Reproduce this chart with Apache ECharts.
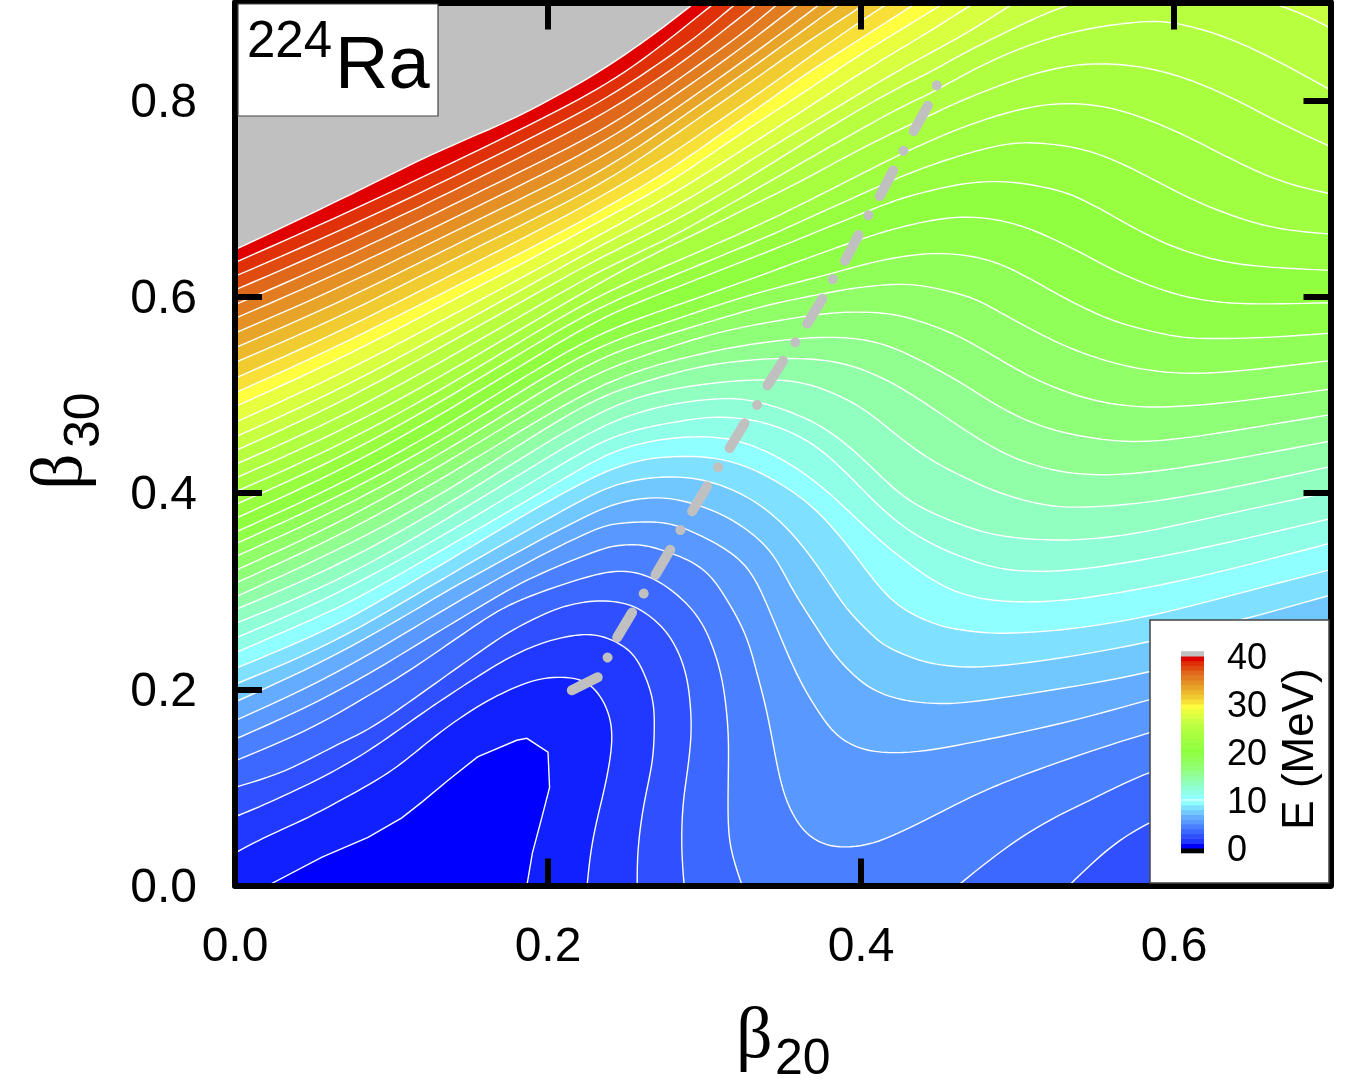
<!DOCTYPE html>
<html>
<head>
<meta charset="utf-8">
<title>224Ra</title>
<script src="https://cdn.jsdelivr.net/npm/echarts@6/dist/echarts.min.js"></script>
<style>
html,body{margin:0;padding:0;background:#fff}
#chart{width:1347px;height:1089px}
</style>
</head>
<body>
<div id="chart"></div>
<script>
// contours are [beta20, beta30] pairs, one per MeV
const c01 = [[0.021,0],[0.0556,0.029],[0.085,0.049],[0.1066,0.069],[0.1194,0.085],[0.136,0.107],[0.155,0.131],[0.18,0.148],[0.1865,0.15],[0.2,0.136],[0.201,0.1],[0.196,0.069],[0.19,0.033],[0.1865,0]]
const c02 = [[0,0.033],[0.017,0.048],[0.043,0.066],[0.068,0.087],[0.096,0.112],[0.111,0.13],[0.132,0.158],[0.155,0.183],[0.174,0.199],[0.193,0.211],[0.209,0.213],[0.2235,0.21],[0.234,0.194],[0.241,0.168],[0.241,0.138],[0.236,0.097],[0.231,0.066],[0.227,0.033],[0.225,0]]
const c03 = [[0,0.07],[0.017,0.081],[0.043,0.1],[0.07,0.122],[0.091,0.143],[0.111,0.166],[0.13,0.187],[0.153,0.211],[0.174,0.232],[0.192,0.245],[0.206,0.252],[0.2235,0.257],[0.236,0.254],[0.248,0.245],[0.257,0.232],[0.264,0.207],[0.268,0.184],[0.268,0.155],[0.267,0.124],[0.261,0.084],[0.257,0.036],[0.257,0]]
const c04a = [[0,0.1],[0.032,0.115],[0.064,0.143],[0.085,0.158],[0.107,0.182],[0.128,0.206],[0.151,0.232],[0.173,0.257],[0.19,0.271],[0.206,0.283],[0.222,0.289],[0.236,0.291],[0.2535,0.287],[0.266,0.274],[0.276,0.259],[0.284,0.237],[0.289,0.212],[0.291,0.186],[0.292,0.155],[0.289,0.114],[0.286,0.084],[0.285,0.039],[0.287,0]]
const c04b = [[0.533,0],[0.556,0.036],[0.583,0.066],[0.642,0.102],[0.7,0.138]]
const c05a = [[0,0.127],[0.047,0.158],[0.075,0.184],[0.107,0.214],[0.128,0.237],[0.149,0.26],[0.171,0.284],[0.198,0.301],[0.233,0.319],[0.248,0.321],[0.2605,0.318],[0.276,0.306],[0.295,0.279],[0.305,0.247],[0.312,0.209],[0.315,0.165],[0.3155,0.138],[0.315,0.094],[0.315,0.059],[0.317,0.033],[0.324,0]]
const c05b = [[0.462,0],[0.492,0.039],[0.522,0.069],[0.551,0.09],[0.583,0.117],[0.642,0.143],[0.7,0.173]]
const c06 = [[0,0.149],[0.064,0.194],[0.128,0.257],[0.174,0.301],[0.192,0.316],[0.233,0.343],[0.2446,0.347],[0.26,0.348],[0.273,0.342],[0.2905,0.332],[0.303,0.318],[0.312,0.298],[0.327,0.257],[0.333,0.219],[0.34,0.179],[0.346,0.124],[0.351,0.09],[0.359,0.064],[0.368,0.048],[0.382,0.038],[0.404,0.04],[0.426,0.054],[0.469,0.09],[0.494,0.107],[0.53,0.128],[0.583,0.156],[0.642,0.181],[0.7,0.204]]
const c07 = [[0,0.168],[0.064,0.214],[0.128,0.276],[0.155,0.301],[0.192,0.334],[0.233,0.366],[0.244,0.369],[0.2605,0.371],[0.278,0.37],[0.295,0.359],[0.312,0.345],[0.327,0.327],[0.337,0.299],[0.3525,0.237],[0.363,0.202],[0.372,0.179],[0.381,0.158],[0.391,0.145],[0.407,0.135],[0.4355,0.135],[0.469,0.145],[0.53,0.165],[0.583,0.189],[0.642,0.214],[0.7,0.24]]
const c08 = [[0,0.187],[0.064,0.233],[0.128,0.293],[0.136,0.301],[0.192,0.35],[0.233,0.384],[0.248,0.391],[0.2605,0.395],[0.28,0.396],[0.31,0.381],[0.333,0.357],[0.346,0.334],[0.356,0.301],[0.372,0.262],[0.382,0.237],[0.391,0.221],[0.401,0.206],[0.414,0.194],[0.432,0.187],[0.45,0.185],[0.469,0.186],[0.53,0.201],[0.583,0.216],[0.642,0.242],[0.7,0.268]]
const c09 = [[0,0.205],[0.064,0.247],[0.12,0.301],[0.192,0.367],[0.233,0.403],[0.249,0.411],[0.265,0.416],[0.286,0.417],[0.305,0.412],[0.331,0.395],[0.354,0.364],[0.37,0.331],[0.381,0.305],[0.391,0.281],[0.404,0.26],[0.414,0.245],[0.425,0.237],[0.439,0.228],[0.457,0.223],[0.479,0.222],[0.519,0.229],[0.583,0.247],[0.647,0.272],[0.7,0.296]]
const c10 = [[0,0.221],[0.064,0.263],[0.104,0.301],[0.128,0.323],[0.192,0.385],[0.233,0.42],[0.249,0.429],[0.265,0.436],[0.289,0.438],[0.308,0.436],[0.329,0.427],[0.354,0.405],[0.3735,0.381],[0.395,0.34],[0.414,0.298],[0.429,0.279],[0.446,0.267],[0.457,0.262],[0.479,0.257],[0.498,0.257],[0.53,0.26],[0.583,0.273],[0.637,0.296],[0.7,0.322]]
const c11 = [[0,0.237],[0.064,0.281],[0.0875,0.301],[0.128,0.338],[0.192,0.397],[0.233,0.437],[0.254,0.449],[0.276,0.456],[0.297,0.458],[0.318,0.456],[0.3435,0.441],[0.369,0.415],[0.388,0.388],[0.41,0.354],[0.431,0.327],[0.455,0.301],[0.479,0.291],[0.498,0.289],[0.519,0.289],[0.551,0.294],[0.615,0.313],[0.7,0.349]]
const c12 = [[0,0.252],[0.064,0.295],[0.128,0.352],[0.192,0.413],[0.233,0.453],[0.2586,0.466],[0.28,0.472],[0.3014,0.478],[0.3225,0.477],[0.3416,0.471],[0.365,0.456],[0.386,0.429],[0.41,0.388],[0.431,0.36],[0.455,0.34],[0.483,0.324],[0.503,0.32],[0.53,0.32],[0.573,0.329],[0.637,0.35],[0.7,0.374]]
const c13 = [[0,0.267],[0.064,0.308],[0.128,0.366],[0.192,0.429],[0.233,0.468],[0.2586,0.483],[0.282,0.492],[0.31,0.497],[0.329,0.496],[0.356,0.483],[0.378,0.466],[0.399,0.439],[0.42,0.405],[0.437,0.385],[0.466,0.366],[0.483,0.358],[0.5,0.354],[0.519,0.352],[0.541,0.352],[0.577,0.358],[0.637,0.38],[0.7,0.401]]
const c14 = [[0,0.281],[0.064,0.324],[0.128,0.38],[0.192,0.445],[0.233,0.483],[0.2605,0.5],[0.286,0.508],[0.314,0.514],[0.34,0.516],[0.361,0.514],[0.382,0.503],[0.4036,0.485],[0.4246,0.456],[0.4457,0.432],[0.466,0.416],[0.487,0.4],[0.519,0.386],[0.541,0.385],[0.581,0.389],[0.637,0.405],[0.7,0.427]]
const c15 = [[0,0.294],[0.064,0.34],[0.128,0.394],[0.192,0.46],[0.233,0.499],[0.263,0.514],[0.2925,0.528],[0.3225,0.535],[0.35,0.538],[0.382,0.536],[0.4074,0.523],[0.431,0.503],[0.466,0.464],[0.4936,0.437],[0.5217,0.423],[0.541,0.419],[0.562,0.418],[0.594,0.423],[0.637,0.434],[0.7,0.453]]
const c16 = [[0,0.308],[0.064,0.354],[0.128,0.41],[0.192,0.473],[0.233,0.51],[0.265,0.529],[0.295,0.541],[0.3244,0.551],[0.365,0.559],[0.3927,0.559],[0.4138,0.553],[0.4355,0.538],[0.466,0.511],[0.4853,0.49],[0.509,0.471],[0.532,0.46],[0.56,0.453],[0.581,0.452],[0.611,0.456],[0.7,0.48]]
const c17 = [[0,0.321],[0.064,0.367],[0.128,0.424],[0.192,0.487],[0.233,0.525],[0.276,0.548],[0.308,0.564],[0.34,0.574],[0.378,0.584],[0.4036,0.585],[0.4246,0.582],[0.4457,0.571],[0.466,0.558],[0.4936,0.531],[0.517,0.511],[0.547,0.494],[0.573,0.488],[0.594,0.487],[0.637,0.492],[0.7,0.506]]
const c18 = [[0,0.335],[0.064,0.381],[0.128,0.436],[0.192,0.5],[0.233,0.538],[0.265,0.556],[0.308,0.577],[0.34,0.592],[0.3716,0.602],[0.3946,0.609],[0.418,0.613],[0.4374,0.613],[0.466,0.602],[0.477,0.595],[0.4936,0.58],[0.5153,0.561],[0.541,0.542],[0.573,0.527],[0.6047,0.521],[0.6367,0.523],[0.7,0.535]]
const c19 = [[0,0.348],[0.064,0.394],[0.128,0.449],[0.192,0.513],[0.233,0.551],[0.276,0.574],[0.318,0.597],[0.3525,0.612],[0.382,0.624],[0.4036,0.634],[0.4246,0.641],[0.4457,0.645],[0.466,0.643],[0.481,0.638],[0.496,0.629],[0.5153,0.612],[0.532,0.597],[0.5447,0.587],[0.564,0.573],[0.6,0.559],[0.6194,0.557],[0.6577,0.558],[0.7,0.563]]
const c20 = [[0,0.36],[0.064,0.406],[0.128,0.461],[0.192,0.526],[0.233,0.563],[0.265,0.582],[0.2925,0.597],[0.308,0.606],[0.34,0.624],[0.3716,0.643],[0.4036,0.661],[0.4246,0.671],[0.45,0.68],[0.4693,0.682],[0.487,0.679],[0.509,0.67],[0.541,0.645],[0.562,0.626],[0.594,0.605],[0.621,0.595],[0.651,0.592],[0.7,0.594]]
const c21 = [[0,0.374],[0.064,0.42],[0.128,0.476],[0.192,0.539],[0.233,0.578],[0.265,0.599],[0.286,0.612],[0.318,0.632],[0.35,0.652],[0.382,0.673],[0.41,0.691],[0.4246,0.7],[0.4457,0.709],[0.466,0.716],[0.4917,0.719],[0.5217,0.711],[0.541,0.701],[0.573,0.671],[0.598,0.651],[0.628,0.636],[0.6577,0.63],[0.7,0.627]]
const c22 = [[0,0.388],[0.064,0.433],[0.128,0.489],[0.192,0.552],[0.233,0.59],[0.276,0.619],[0.308,0.64],[0.34,0.661],[0.3716,0.684],[0.4036,0.707],[0.4246,0.722],[0.4457,0.735],[0.4693,0.747],[0.4917,0.756],[0.509,0.758],[0.538,0.753],[0.562,0.74],[0.5875,0.719],[0.615,0.696],[0.643,0.679],[0.6686,0.668],[0.7,0.664]]
const c23 = [[0,0.401],[0.064,0.446],[0.128,0.501],[0.192,0.564],[0.233,0.602],[0.276,0.632],[0.308,0.654],[0.34,0.677],[0.3716,0.702],[0.4036,0.728],[0.4246,0.745],[0.4457,0.76],[0.466,0.774],[0.5045,0.794],[0.5364,0.799],[0.568,0.791],[0.6047,0.767],[0.6367,0.74],[0.6686,0.716],[0.7,0.705]]
const c24 = [[0,0.415],[0.064,0.46],[0.128,0.515],[0.192,0.576],[0.233,0.614],[0.265,0.642],[0.297,0.666],[0.329,0.692],[0.361,0.717],[0.3927,0.745],[0.42,0.767],[0.4457,0.786],[0.466,0.802],[0.519,0.834],[0.5575,0.84],[0.598,0.83],[0.6367,0.804],[0.6686,0.776],[0.7,0.753]]
const c25 = [[0,0.429],[0.064,0.474],[0.128,0.53],[0.192,0.589],[0.233,0.627],[0.276,0.658],[0.308,0.687],[0.34,0.716],[0.369,0.743],[0.399,0.77],[0.4246,0.793],[0.4457,0.808],[0.466,0.827],[0.498,0.852],[0.5364,0.872],[0.581,0.882],[0.602,0.88],[0.6367,0.864],[0.6705,0.837],[0.7,0.811]]
const c26 = [[0,0.443],[0.064,0.489],[0.128,0.545],[0.192,0.603],[0.233,0.64],[0.276,0.673],[0.308,0.702],[0.34,0.733],[0.369,0.762],[0.399,0.791],[0.4246,0.814],[0.4457,0.83],[0.466,0.849],[0.498,0.874],[0.53,0.898],[0.5715,0.915],[0.6226,0.915],[0.6705,0.898],[0.7,0.874]]
const c27 = [[0,0.457],[0.064,0.503],[0.128,0.558],[0.192,0.615],[0.233,0.652],[0.276,0.687],[0.308,0.717],[0.34,0.75],[0.369,0.778],[0.3927,0.801],[0.42,0.827],[0.4457,0.85],[0.4693,0.87],[0.496,0.898],[0.52,0.92]]
const c28 = [[0,0.472],[0.064,0.518],[0.128,0.572],[0.192,0.627],[0.233,0.663],[0.276,0.701],[0.308,0.733],[0.34,0.766],[0.369,0.796],[0.3927,0.821],[0.42,0.848],[0.4457,0.872],[0.4705,0.898],[0.495,0.92]]
const c29 = [[0,0.488],[0.064,0.534],[0.128,0.587],[0.192,0.641],[0.233,0.677],[0.276,0.714],[0.308,0.75],[0.34,0.784],[0.369,0.814],[0.3927,0.84],[0.42,0.867],[0.452,0.898],[0.473,0.92]]
const c30 = [[0,0.502],[0.064,0.548],[0.128,0.6],[0.192,0.652],[0.233,0.687],[0.276,0.727],[0.308,0.763],[0.34,0.799],[0.369,0.832],[0.4036,0.867],[0.434,0.898],[0.455,0.92]]
const c31 = [[0,0.517],[0.064,0.562],[0.128,0.614],[0.192,0.666],[0.233,0.701],[0.276,0.742],[0.308,0.778],[0.34,0.813],[0.369,0.847],[0.4036,0.885],[0.418,0.9],[0.437,0.92]]
const c32 = [[0,0.533],[0.064,0.577],[0.128,0.629],[0.192,0.68],[0.233,0.714],[0.265,0.747],[0.297,0.783],[0.329,0.818],[0.361,0.855],[0.3927,0.888],[0.4036,0.9],[0.422,0.92]]
const c33 = [[0,0.548],[0.064,0.592],[0.128,0.643],[0.192,0.693],[0.233,0.727],[0.265,0.76],[0.297,0.796],[0.329,0.832],[0.361,0.869],[0.3875,0.9],[0.406,0.92]]
const c34 = [[0,0.563],[0.064,0.607],[0.128,0.657],[0.192,0.707],[0.233,0.741],[0.265,0.773],[0.297,0.809],[0.329,0.845],[0.361,0.883],[0.3735,0.898],[0.392,0.92]]
const c35 = [[0,0.578],[0.064,0.622],[0.128,0.671],[0.192,0.721],[0.233,0.755],[0.265,0.788],[0.297,0.823],[0.329,0.86],[0.3595,0.898],[0.378,0.92]]
const c36 = [[0,0.592],[0.064,0.636],[0.128,0.685],[0.192,0.735],[0.233,0.768],[0.265,0.801],[0.297,0.837],[0.329,0.874],[0.346,0.898],[0.365,0.92]]
const c37 = [[0,0.607],[0.064,0.651],[0.128,0.699],[0.192,0.75],[0.233,0.784],[0.265,0.816],[0.297,0.852],[0.333,0.898],[0.351,0.92]]
const c38 = [[0,0.621],[0.064,0.665],[0.128,0.713],[0.192,0.764],[0.233,0.798],[0.265,0.831],[0.297,0.867],[0.319,0.898],[0.337,0.92]]
const c39 = [[0,0.635],[0.064,0.68],[0.128,0.728],[0.192,0.778],[0.233,0.812],[0.265,0.846],[0.305,0.898],[0.323,0.92]]
const c40 = [[0,0.648],[0.064,0.696],[0.128,0.748],[0.17,0.775],[0.2005,0.8],[0.233,0.829],[0.265,0.864],[0.2925,0.898],[0.31,0.92]]

// fission path, grey dash-dot
const fissionPath = [[0.2152,0.199],[0.2318,0.2122],[0.2375,0.2306],[0.2439,0.252],[0.2535,0.2776],[0.2605,0.2959],[0.2682,0.3153],[0.2784,0.3429],[0.2842,0.3612],[0.2918,0.3806],[0.3014,0.4061],[0.3084,0.4255],[0.3161,0.4459],[0.3257,0.4714],[0.3333,0.4888],[0.3404,0.5102],[0.3506,0.5357],[0.3582,0.5541],[0.3659,0.5735],[0.3768,0.602],[0.3825,0.6194],[0.3902,0.6378],[0.3985,0.6633],[0.4049,0.6837],[0.4125,0.7041],[0.4208,0.7296],[0.4278,0.751],[0.4342,0.7704],[0.4438,0.798],[0.4505,0.8236]]

// band colours, bandColors[k] is what lies above contour k
const bandColors = ['#0000ff','#1020ff','#2038ff','#3050ff','#3c68ff','#4a80ff','#5898ff','#64acff','#70c8ff','#80e0ff',
  '#90ffff','#90ffe8','#90ffd8','#90ffc0','#90ffa8','#90ff90','#90ff78','#90ff68','#90ff58','#90ff48',
  '#90ff40','#98ff40','#a0ff40','#a8ff40','#b0ff40','#b8ff40','#c8ff40','#d8ff40','#e8ff40','#ffff40',
  '#f8e038','#f0cc30','#ecb82c','#e8a428','#e49024','#e27c20','#e0681a','#e04c10','#e03008','#e00000','#c0c0c0']

const xTicks = {min: 0, max: 0.7, interval: 0.2}
const yTicks = {min: 0, max: 0.9, interval: 0.2}
const barTicks = {min: 0, max: 40, interval: 10}
const barLevels = [-1,0,1,2,3,4,5,6,7,8,9,10,11,12,13,14,15,16,17,18,19,20,21,22,23,24,25,26,27,28,29,30,31,32,33,34,35,36,37,38,39,40]

const contours = [[c01],[c02],[c03],[c04a,c04b],[c05a,c05b],[c06],[c07],[c08],[c09],[c10],[c11],[c12],[c13],[c14],[c15],[c16],[c17],[c18],[c19],[c20],
  [c21],[c22],[c23],[c24],[c25],[c26],[c27],[c28],[c29],[c30],[c31],[c32],[c33],[c34],[c35],[c36],[c37],[c38],[c39],[c40]]

// cubic b-spline over the read points, takes the hand-reading jitter out of the lines
function spline(p) {
  const out = [p[0]]
  const at = i => {
    if (i < 0) return [2*p[0][0]-p[1][0], 2*p[0][1]-p[1][1]]
    if (i >= p.length) return [2*p[p.length-1][0]-p[p.length-2][0], 2*p[p.length-1][1]-p[p.length-2][1]]
    return p[i]
  }
  for (let i = 0; i < p.length - 1; i++) {
    const a = at(i-1), b = at(i), c = at(i+1), d = at(i+2)
    for (let k = 1; k <= 6; k++) {
      const t = k/6, t2 = t*t, t3 = t2*t
      const w0 = (1-3*t+3*t2-t3)/6, w1 = (4-6*t2+3*t3)/6, w2 = (1+3*t+3*t2-3*t3)/6, w3 = t3/6
      out.push([w0*a[0]+w1*b[0]+w2*c[0]+w3*d[0], w0*a[1]+w1*b[1]+w2*c[1]+w3*d[1]])
    }
  }
  return out
}

function renderContour(params, api) {
  const i = params.dataIndex
  const pieces = contours[i]
  const toPx = pt => api.coord(pt)
  const lines = pieces.map(piece => i === 0 ? piece.map(toPx) : spline(piece.map(toPx)))
  let fill = [].concat(...lines)
  if (i > 0) {
    const last = pieces[pieces.length-1]
    const end = last[last.length-1]
    if (end[0] < 0.7 && end[1] < 0.5) fill.push(toPx([0.7,0]))
    fill.push(toPx([0.7,1]), toPx([0,1]))
  }
  const children = [{type:'polygon', shape:{points:fill}, style:{fill:bandColors[i === 0 ? 0 : i+1]}}]
  lines.forEach(l => children.push({type:'polyline', shape:{points:l}, style:{stroke:'#fff', lineWidth:1.4, fill:'none'}}))
  return {type:'group', children}
}

function renderBar(params, api) {
  const k = api.value(0)
  const a = api.coord([0,k]), b = api.coord([1,k+1])
  let color
  if (k < 0) color = '#000'
  else if (k >= 40) color = '#c0c0c0'
  else color = bandColors[k === 0 ? 0 : (k < 10 ? k+1 : k)]
  const kids = [{type:'rect', shape:{x:a[0], y:b[1], width:b[0]-a[0], height:a[1]-b[1]+0.5}, style:{fill:color}}]
  if (k === 10) kids.push({type:'line', shape:{x1:a[0],y1:a[1],x2:b[0],y2:a[1]}, style:{stroke:'#fff',lineWidth:1}})
  return {type:'group', children:kids}
}

const axisFont = {color:'#000', fontFamily:'Liberation Sans', fontSize:48}
const frame = {onZero:false, lineStyle:{color:'#000', width:6}}
const inTick = {show:true, inside:true, length:27, lineStyle:{color:'#000', width:6}}
const labelFmt = v => v.toFixed(1)

const chart = echarts.init(document.getElementById('chart'), null, {renderer:'canvas'})
chart.setOption({
  animation: false,
  backgroundColor: '#fff',
  grid: [
    {left:235, top:2.5, width:1095.5, height:883, show:true, backgroundColor:bandColors[1], borderWidth:0},
    {left:1181, top:656, width:23, height:192}
  ],
  xAxis: [
    {type:'value', gridIndex:0, position:'bottom', ...xTicks, z:5, axisLine:frame, axisTick:inTick, splitLine:{show:false},
      axisLabel:{...axisFont, margin:38, showMaxLabel:false, formatter:labelFmt}},
    {type:'value', gridIndex:0, position:'top', ...xTicks, z:5, axisLine:frame, axisTick:inTick, splitLine:{show:false}, axisLabel:{show:false}},
    {type:'value', gridIndex:1, min:0, max:1, show:false}
  ],
  yAxis: [
    {type:'value', gridIndex:0, position:'left', ...yTicks, z:5, axisLine:frame, axisTick:inTick, splitLine:{show:false},
      axisLabel:{...axisFont, margin:38, showMaxLabel:false, verticalAlign:'top', lineHeight:6, formatter:labelFmt}},
    {type:'value', gridIndex:0, position:'right', ...yTicks, z:5, axisLine:frame, axisTick:inTick, splitLine:{show:false}, axisLabel:{show:false}},
    {type:'value', gridIndex:1, position:'right', ...barTicks, z:20, axisLine:{show:false}, axisTick:{show:false}, splitLine:{show:false},
      axisLabel:{color:'#000', fontFamily:'Liberation Sans', fontSize:36, margin:23, align:'left', verticalAlign:'top', lineHeight:6}}
  ],
  series: [
    {type:'custom', name:'energy', xAxisIndex:0, yAxisIndex:0, clip:true, z:2, renderItem:renderContour,
      encode:{x:0,y:1}, data:contours.map(c => [c[0][0][0], c[0][0][1]])},
    {type:'line', name:'path', xAxisIndex:0, yAxisIndex:0, z:3, data:fissionPath, showSymbol:false, symbol:'none', silent:true,
      lineStyle:{color:'#c0c0c0', width:10, cap:'round', join:'round', type:[29,22.2,0.01,22.2]}},
    {type:'custom', name:'bar', xAxisIndex:2, yAxisIndex:2, z:20, renderItem:renderBar, encode:{y:0}, data:barLevels.map(k => [k])}
  ],
  graphic: [
    {type:'rect', z:10, shape:{x:238,y:4,width:200,height:112}, style:{fill:'#fff',stroke:'#444',lineWidth:1.2}},
    {type:'text', z:11, x:247, y:68, style:{text:'224', fill:'#000', font:'51px "Liberation Sans"', textVerticalAlign:'bottom', textAlign:'left'}},
    {type:'text', z:11, x:335, y:105, style:{text:'Ra', fill:'#000', font:'74px "Liberation Sans"', textVerticalAlign:'bottom', textAlign:'left'}},
    {type:'rect', z:10, shape:{x:1150,y:620,width:179,height:263}, style:{fill:'#fff',stroke:'#444',lineWidth:1.5}},
    {type:'text', z:21, x:1301, y:749, rotation:Math.PI/2, style:{text:'E (MeV)', fill:'#000', font:'44px "Liberation Sans"', textAlign:'center', textVerticalAlign:'middle'}},
    {type:'text', z:11, x:736, y:1074, style:{text:'β', fill:'#000', font:'72px "Liberation Serif"', textAlign:'left', textVerticalAlign:'bottom'}},
    {type:'text', z:11, x:775, y:1085, style:{text:'20', fill:'#000', font:'50px "Liberation Sans"', textAlign:'left', textVerticalAlign:'bottom'}},
    {type:'text', z:11, x:98, y:490, rotation:Math.PI/2, style:{text:'β', fill:'#000', font:'72px "Liberation Serif"', textAlign:'left', textVerticalAlign:'bottom'}},
    {type:'text', z:11, x:110, y:448, rotation:Math.PI/2, style:{text:'30', fill:'#000', font:'50px "Liberation Sans"', textAlign:'left', textVerticalAlign:'bottom'}}
  ]
})
</script>
</body>
</html>
